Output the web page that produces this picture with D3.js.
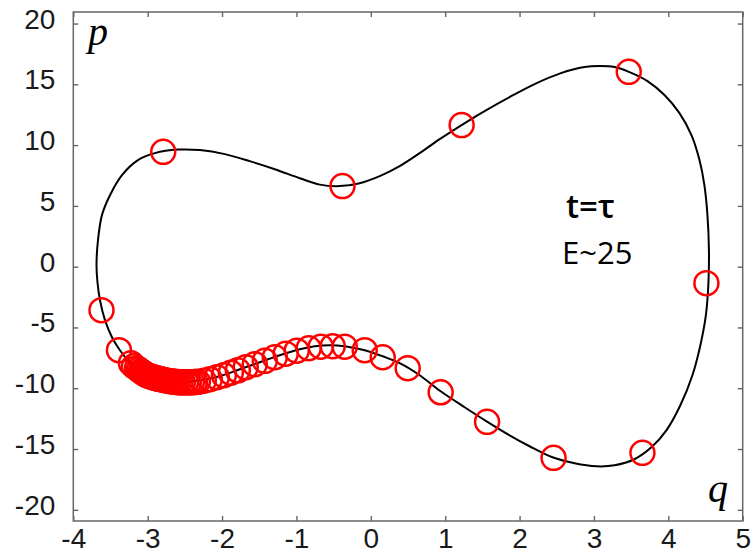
<!DOCTYPE html>
<html>
<head>
  <meta charset="utf-8">
  <script src="https://cdnjs.cloudflare.com/ajax/libs/d3/7.8.5/d3.min.js"></script>
  <style>
    body { margin: 0; background: #fff; }
  </style>
</head>
<body>
  <script>
    // closed orbit in the (q, p) plane
    var orbitQ = [-3.688, -3.668, -3.615, -3.507, -3.346, -3.131, -2.903, -2.594, -2.298, -1.962,
      -1.627, -1.291, -0.955, -0.686, -0.418, -0.149, 0.120, 0.388, 0.657, 0.926,
      1.221, 1.530, 1.866, 2.202, 2.538, 2.873, 3.075, 3.276, 3.478, 3.720,
      3.948, 4.150, 4.311, 4.419, 4.485, 4.526, 4.546, 4.539, 4.505, 4.431,
      4.324, 4.162, 3.974, 3.772, 3.544, 3.276, 3.034, 2.739, 2.443, 2.134,
      1.866, 1.557, 1.261, 0.939, 0.657, 0.388, 0.160, -0.082, -0.351, -0.552,
      -0.754, -0.955, -1.224, -1.492, -1.761, -2.029, -2.298, -2.567, -2.768, -2.970,
      -3.131, -3.265, -3.373, -3.480, -3.574, -3.641, -3.675];
    var orbitP = [0.12, 2.18, 4.24, 5.88, 7.53, 8.77, 9.34, 9.63, 9.59, 9.26,
      8.68, 8.02, 7.28, 6.75, 6.63, 6.87, 7.45, 8.27, 9.34, 10.49,
      11.65, 12.80, 13.95, 15.02, 15.88, 16.42, 16.50, 16.42, 16.01, 15.27,
      14.12, 12.63, 10.82, 8.77, 6.71, 4.24, 1.36, -1.36, -3.99, -6.46,
      -8.93, -11.40, -13.46, -14.86, -15.84, -16.34, -16.42, -16.17, -15.68, -14.77,
      -13.87, -12.72, -11.56, -10.25, -8.93, -7.94, -7.37, -6.87, -6.54, -6.46,
      -6.54, -6.79, -7.28, -7.86, -8.44, -9.01, -9.34, -9.51, -9.38, -9.09,
      -8.44, -7.70, -6.87, -5.80, -4.40, -2.76, -1.28];

    // sampled states (red circles)
    var sampleQ = [-2.791, -0.381, 1.221, 3.468, 4.512, 3.652, 2.457, 1.563, 0.939, 0.496,
      0.160, -0.082, -3.621, -3.386, -3.225,
      -3.185, -3.144, -3.118, -3.091, -3.071, -3.050, -3.030, -3.010, -2.990, -2.970,
      -2.950, -2.929, -2.903, -2.876, -2.849, -2.822, -2.795, -2.768, -2.735, -2.701,
      -2.668, -2.634, -2.600, -2.567, -2.527, -2.486, -2.446, -2.406, -2.365, -2.325,
      -2.245, -2.164, -2.070, -1.976, -1.882,
      -1.788, -1.681, -1.560, -1.425, -1.291, -1.144, -0.996, -0.835, -0.673, -0.512, -0.351];
    var sampleP = [9.45, 6.63, 11.65, 16.03, -1.36, -15.31, -15.72, -12.76, -10.33, -8.35,
      -7.45, -6.87, -3.58, -6.87, -7.94,
      -8.19, -8.35, -8.48, -8.60, -8.68, -8.77, -8.85, -8.93, -8.97, -9.01,
      -9.05, -9.09, -9.14, -9.18, -9.22, -9.26, -9.30, -9.34, -9.38, -9.42,
      -9.44, -9.47, -9.49, -9.51, -9.51, -9.51, -9.51, -9.51, -9.49, -9.47,
      -9.38, -9.26, -9.09, -8.93, -8.72,
      -8.52, -8.27, -8.02, -7.74, -7.45, -7.16, -6.91, -6.71, -6.58, -6.54, -6.58];

    var xTicks = [-4, -3, -2, -1, 0, 1, 2, 3, 4, 5];
    var yTicks = [-20, -15, -10, -5, 0, 5, 10, 15, 20];

    var width = 754, height = 557;
    var plotLeft = 73.3, plotRight = 742.7, plotTop = 12, plotBottom = 521;

    var svg = d3.select('body')
      .append('svg')
      .attr('width', width)
      .attr('height', height);

    var x = d3.scaleLinear().domain([-4, 5]).range([plotLeft, plotRight]);
    var y = d3.scaleLinear().domain([-20.92, 20.95]).range([plotBottom, plotTop]);

    // plain hyphen minus, like the original
    var fmt = function(d) { return String(d); };

    function styleAxis(g) {
      g.select('.domain').remove();
      g.selectAll('.tick line').attr('stroke', '#666').attr('stroke-width', 1.4);
      g.selectAll('.tick text')
        .attr('fill', '#1a1a1a')
        .attr('font-family', '"Liberation Sans", Arial, sans-serif')
        .attr('font-size', 28);
    }

    svg.append('g')
      .attr('transform', 'translate(' + plotLeft + ',0)')
      .call(d3.axisLeft(y).tickValues(yTicks).tickFormat(fmt).tickSize(-5).tickPadding(18))
      .call(styleAxis)
      .selectAll('.tick text').attr('dy', '0.16em');

    svg.append('g')
      .attr('transform', 'translate(0,' + plotBottom + ')')
      .call(d3.axisBottom(x).tickValues(xTicks).tickFormat(fmt).tickSize(-5).tickPadding(7))
      .call(styleAxis);

    svg.append('g')
      .attr('transform', 'translate(' + plotRight + ',0)')
      .call(d3.axisRight(y).tickValues(yTicks).tickSize(-5).tickFormat(''))
      .call(styleAxis);

    svg.append('g')
      .attr('transform', 'translate(0,' + plotTop + ')')
      .call(d3.axisTop(x).tickValues(xTicks).tickSize(-5).tickFormat(''))
      .call(styleAxis);

    svg.append('rect')
      .attr('x', plotLeft)
      .attr('y', plotTop)
      .attr('width', plotRight - plotLeft)
      .attr('height', plotBottom - plotTop)
      .attr('fill', 'none')
      .attr('stroke', '#666')
      .attr('stroke-width', 1.5);

    var orbit = orbitQ.map(function(q, i) { return [q, orbitP[i]]; });

    var line = d3.line()
      .x(function(d) { return x(d[0]); })
      .y(function(d) { return y(d[1]); })
      .curve(d3.curveCatmullRomClosed.alpha(0.5));

    svg.append('path')
      .datum(orbit)
      .attr('d', line)
      .attr('fill', 'none')
      .attr('stroke', '#000')
      .attr('stroke-width', 2);

    var samples = sampleQ.map(function(q, i) { return { q: q, p: sampleP[i] }; });

    svg.selectAll('circle.sample')
      .data(samples)
      .enter()
      .append('circle')
      .attr('class', 'sample')
      .attr('cx', function(d) { return x(d.q); })
      .attr('cy', function(d) { return y(d.p); })
      .attr('r', 12)
      .attr('fill', 'none')
      .attr('stroke', '#ff0000')
      .attr('stroke-width', 2.5);

    // axis names and annotation
    svg.append('text')
      .attr('x', 88)
      .attr('y', 45)
      .attr('font-family', '"Liberation Serif", "DejaVu Serif", serif')
      .attr('font-style', 'italic')
      .attr('font-size', 40)
      .text('p');

    svg.append('text')
      .attr('x', 708)
      .attr('y', 502)
      .attr('font-family', '"Liberation Serif", "DejaVu Serif", serif')
      .attr('font-style', 'italic')
      .attr('font-size', 40)
      .text('q');

    svg.append('text')
      .attr('x', 566)
      .attr('y', 218)
      .attr('font-family', '"Open Sans", sans-serif')
      .attr('font-weight', 600)
      .attr('font-size', 33)
      .text('t=τ');

    svg.append('text')
      .attr('x', 562)
      .attr('y', 264)
      .attr('font-family', '"Open Sans", sans-serif')
      .attr('font-size', 31)
      .text('E~25');
  </script>
</body>
</html>
